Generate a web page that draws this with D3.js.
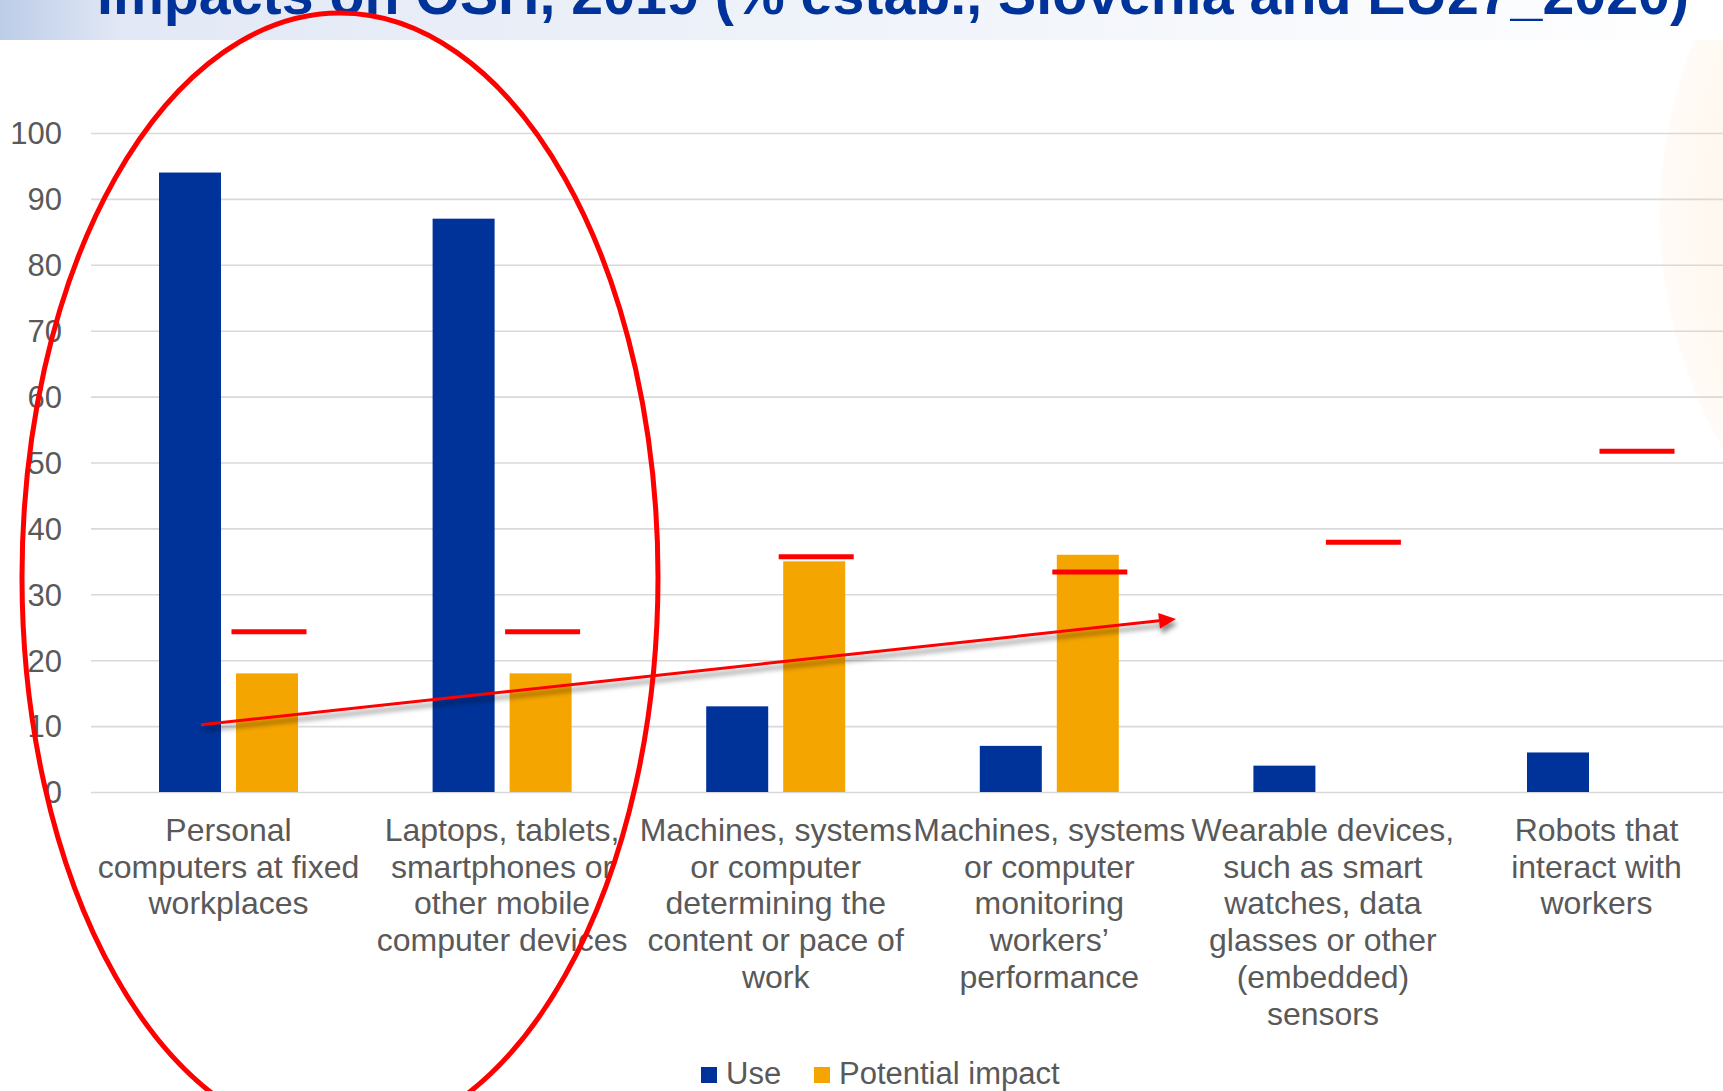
<!DOCTYPE html>
<html>
<head>
<meta charset="utf-8">
<script src="https://cdn.jsdelivr.net/npm/d3@7"></script>
<style>
  html, body { margin: 0; padding: 0; background: #ffffff; overflow: hidden; }
  svg { display: block; font-family: "Liberation Sans", Arial, sans-serif; }
</style>
</head>
<body>
<svg id="chart" width="1723" height="1091"></svg>
<script>
// ---- Data ----
const titleText = "Impacts on OSH, 2019 (% estab., Slovenia and EU27_2020)";
const categories = [
  ["Personal", "computers at fixed", "workplaces"],
  ["Laptops, tablets,", "smartphones or", "other mobile", "computer devices"],
  ["Machines, systems", "or computer", "determining the", "content or pace of", "work"],
  ["Machines, systems", "or computer", "monitoring", "workers’", "performance"],
  ["Wearable devices,", "such as smart", "watches, data", "glasses or other", "(embedded)", "sensors"],
  ["Robots that", "interact with", "workers"]
];
const useValues = [94, 87, 13, 7, 4, 6];
const impactValues = [18, 18, 35, 36, null, null];
const eu27Impact = [24.3, 24.3, 35.7, 33.4, 37.9, 51.7];
const yTicks = [0, 10, 20, 30, 40, 50, 60, 70, 80, 90, 100];
const seriesNames = ["Use", "Potential impact"];
const arrowFrom = [0, 10.2];   // [category offset, value]
const arrowTo = [3.463, 26.25];

// ---- Layout ----
const svg = d3.select("#chart");
const W = 1723, H = 1091;
const colors = { use: "#003399", impact: "#f5a500", red: "#ff0000", grid: "#d9d9d9", text: "#595959" };

const x = d3.scaleBand().domain(d3.range(categories.length)).range([91.7, 1733.3]).padding(0);
const y = d3.scaleLinear().domain([0, 100]).range([792, 133]);
const barW = 62, gap = 15;
const cx = i => x(i) + x.bandwidth() / 2;
const xUse = i => cx(i) - gap / 2 - barW;
const xImp = i => cx(i) + gap / 2;

const defs = svg.append("defs");
const tg = defs.append("linearGradient").attr("id", "titleGrad").attr("x1", "0").attr("x2", "1").attr("y1", "0").attr("y2", "0");
tg.append("stop").attr("offset", "0%").attr("stop-color", "#bccde8");
tg.append("stop").attr("offset", "7%").attr("stop-color", "#e2e8f5");
tg.append("stop").attr("offset", "45%").attr("stop-color", "#eef2f9");
tg.append("stop").attr("offset", "100%").attr("stop-color", "#ffffff");

const rg = defs.append("radialGradient").attr("id", "peach");
rg.append("stop").attr("offset", "0%").attr("stop-color", "#fff3e4");
rg.append("stop").attr("offset", "90%").attr("stop-color", "#fff8f0");
rg.append("stop").attr("offset", "100%").attr("stop-color", "#fffbf7");

const sh = defs.append("filter").attr("id", "shadow").attr("x", "-10%").attr("y", "-50%").attr("width", "120%").attr("height", "200%");
sh.append("feDropShadow").attr("dx", 2).attr("dy", 5).attr("stdDeviation", 2.5)
  .attr("flood-color", "#000000").attr("flood-opacity", 0.45);

// background
svg.append("rect").attr("width", W).attr("height", H).attr("fill", "#ffffff");
svg.append("circle").attr("cx", 2126).attr("cy", 215).attr("r", 466).attr("fill", "url(#peach)");

// title band (title is cut off at the top, as in the reference)
svg.append("rect").attr("x", 0).attr("y", 0).attr("width", W).attr("height", 40).attr("fill", "url(#titleGrad)");
svg.append("text").attr("x", 97).attr("y", 14)
  .attr("font-size", 58).attr("font-weight", "bold").attr("fill", "#003399")
  .attr("textLength", 1592).attr("lengthAdjust", "spacingAndGlyphs")
  .text(titleText);

// gridlines + y tick labels
const yAxis = d3.axisLeft(y).tickValues(yTicks).tickSize(-(W - 91)).tickFormat(d3.format("d"));
const gAxis = svg.append("g").attr("transform", "translate(91,0)").call(yAxis);
gAxis.select(".domain").remove();
gAxis.selectAll(".tick line").attr("stroke", colors.grid).attr("stroke-width", 1.6);
gAxis.selectAll(".tick text").attr("x", -29).attr("dy", "0.35em")
  .attr("font-size", 31).attr("fill", colors.text).attr("font-family", "Liberation Sans, Arial, sans-serif");

// bars
svg.append("g").selectAll("rect").data(useValues).join("rect")
  .attr("x", (d, i) => xUse(i)).attr("width", barW)
  .attr("y", d => y(d)).attr("height", d => y(0) - y(d))
  .attr("fill", colors.use);

svg.append("g").selectAll("rect").data(impactValues.map((v, i) => ({ v, i })).filter(d => d.v != null)).join("rect")
  .attr("x", d => xImp(d.i)).attr("width", barW)
  .attr("y", d => y(d.v)).attr("height", d => y(0) - y(d.v))
  .attr("fill", colors.impact);

// EU27 markers
const mW = 75;
svg.append("g").selectAll("line").data(eu27Impact).join("line")
  .attr("x1", (d, i) => xImp(i) + barW / 2 - mW / 2 + 2)
  .attr("x2", (d, i) => xImp(i) + barW / 2 + mW / 2 + 2)
  .attr("y1", d => y(d)).attr("y2", d => y(d))
  .attr("stroke", colors.red).attr("stroke-width", 5);

// arrow
const ax1 = xUse(arrowFrom[0]) + 42, ay1 = y(arrowFrom[1]);
const ax2 = cx(0) + arrowTo[0] * x.bandwidth(), ay2 = y(arrowTo[1]);
const ang = Math.atan2(ay2 - ay1, ax2 - ax1);
const headL = 17, headW = 8;
const bx = ax2 - headL * Math.cos(ang), by = ay2 - headL * Math.sin(ang);
const gArrow = svg.append("g").attr("filter", "url(#shadow)");
gArrow.append("line").attr("x1", ax1).attr("y1", ay1).attr("x2", bx).attr("y2", by)
  .attr("stroke", colors.red).attr("stroke-width", 3);
gArrow.append("path")
  .attr("d", d3.line()([
    [ax2, ay2],
    [bx + headW * Math.sin(ang), by - headW * Math.cos(ang)],
    [bx - headW * Math.sin(ang), by + headW * Math.cos(ang)]
  ]) + "Z")
  .attr("fill", colors.red);

// category labels
const lineH = 36.7;
const gLab = svg.append("g").attr("font-size", 32).attr("fill", colors.text).attr("text-anchor", "middle");
categories.forEach((lines, i) => {
  const t = gLab.append("text").attr("x", cx(i)).attr("y", 841);
  lines.forEach((ln, k) => {
    t.append("tspan").attr("x", cx(i)).attr("y", 841 + k * lineH).text(ln);
  });
});

// legend
const legend = svg.append("g").attr("font-size", 31).attr("fill", colors.text);
const legItems = [
  { name: seriesNames[0], color: colors.use, x: 701 },
  { name: seriesNames[1], color: colors.impact, x: 814 }
];
legItems.forEach(it => {
  legend.append("rect").attr("x", it.x).attr("y", 1067).attr("width", 16).attr("height", 16).attr("fill", it.color);
  legend.append("text").attr("x", it.x + 25).attr("y", 1084).text(it.name);
});

// ellipse annotation
svg.append("ellipse").attr("cx", 340).attr("cy", 577).attr("rx", 318).attr("ry", 564)
  .attr("fill", "none").attr("stroke", colors.red).attr("stroke-width", 5);
</script>
</body>
</html>
